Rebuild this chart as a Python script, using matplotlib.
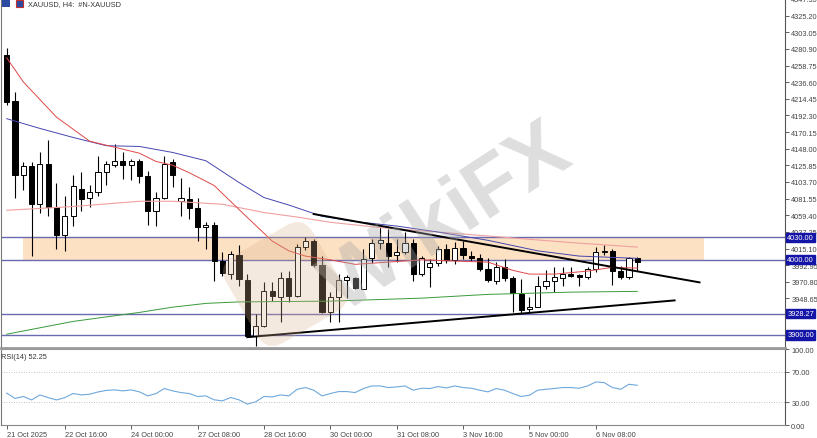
import numpy as np
import matplotlib.pyplot as plt
from matplotlib.patches import FancyBboxPatch, Rectangle
from matplotlib.transforms import Affine2D, blended_transform_factory

plt.rcParams['font.family'] = ['Liberation Sans', 'DejaVu Sans']

# XAUUSD H4 candles
opens = [4273, 4211, 4113, 4125, 4075, 4128, 4070, 4033, 4059, 4095,
         4082, 4090, 4117, 4126, 4131, 4126, 4131, 4111, 4065, 4082,
         4130, 4078, 4081, 4069, 4044, 4046, 3998, 3981, 4006, 3973,
         3899, 3912, 3958, 3950, 3976, 3952, 4017, 4025, 3993, 3930,
         3950, 3973, 3976, 3961, 4002, 4023, 4023, 4006, 4010, 4023,
         3981, 3990, 3996, 4014, 4000, 4016, 4005, 4002, 3988, 3972,
         3990, 3976, 3954, 3935, 3937, 3965, 3972, 3976, 3981, 3980,
         3977, 3988, 4010, 4012, 3985, 3977, 4002]
highs = [4282, 4224, 4130, 4130, 4143, 4160, 4102, 4085, 4113, 4117,
         4099, 4138, 4131, 4154, 4143, 4134, 4134, 4118, 4091, 4138,
         4134, 4109, 4097, 4083, 4051, 4051, 4010, 4012, 4020, 3981,
         3928, 3970, 3970, 3984, 3985, 4021, 4030, 4028, 4005, 3957,
         3981, 3980, 3977, 4014, 4028, 4044, 4041, 4028, 4037, 4028,
         4005, 4001, 4018, 4021, 4024, 4025, 4012, 4008, 4002, 3997,
         4001, 3978, 3974, 3950, 3978, 3986, 3990, 3990, 3990, 3981,
         3990, 4017, 4020, 4014, 3992, 4004, 4004]
lows = [4206, 4082, 4093, 4005, 4063, 4058, 4014, 4012, 4045, 4065,
        4071, 4085, 4099, 4124, 4107, 4106, 4102, 4047, 4045, 4081,
        4097, 4058, 4054, 4025, 4014, 3972, 3978, 3974, 3965, 3897,
        3885, 3910, 3945, 3917, 3944, 3950, 4013, 3990, 3929, 3917,
        3917, 3949, 3961, 3961, 3996, 4014, 3990, 3997, 4008, 3972,
        3978, 3964, 3992, 3996, 3994, 4001, 3998, 3985, 3970, 3968,
        3972, 3931, 3928, 3931, 3937, 3961, 3957, 3965, 3977, 3965,
        3974, 3984, 4006, 3966, 3974, 3974, 3985]
closes = [4210, 4113, 4125, 4075, 4128, 4071, 4033, 4059, 4098, 4081,
          4090, 4117, 4127, 4131, 4126, 4131, 4111, 4065, 4082, 4128,
          4113, 4082, 4069, 4044, 4046, 3998, 3982, 4008, 3974, 3899,
          3912, 3958, 3952, 3976, 3952, 4017, 4025, 3993, 3930, 3950,
          3973, 3977, 3962, 4001, 4023, 4026, 4005, 4010, 4023, 3981,
          4002, 3996, 4014, 4000, 4016, 4006, 4002, 3988, 3973, 3990,
          3976, 3956, 3933, 3937, 3965, 3972, 3977, 3981, 3978, 3977,
          3988, 4010, 4012, 3985, 3977, 4002, 3997]

rsi = [42, 35, 37.5, 33, 39.5, 36, 33, 36, 41.5, 39.6,
       40.5, 43.5, 45.5, 46.2, 44.9, 46.2, 43.6, 38.3, 41.4, 48,
       44.9, 42.7, 41.4, 37.5, 38.3, 33.1, 31.8, 36.2, 33.1, 27.5,
       30.5, 37.5, 37, 39.6, 38.3, 47, 49.3, 45.8, 38.3, 41.4,
       44, 44, 42.7, 48, 51.4, 51.4, 49.3, 50.1, 51.4, 45.8,
       48.4, 48, 50.6, 48.8, 51.4, 49.3, 48.4, 45.8, 43.6, 48,
       45.8, 41.4, 37.5, 39.2, 45.8, 47, 48, 49.3, 49.3, 48.4,
       51.4, 56.6, 55.8, 49.3, 47, 53.6, 52.25]

# moving averages (bar index, price)
ma_red_idx = [0, 2, 6, 10, 16, 18, 20, 22, 25, 28, 30, 32, 34, 36, 39, 42, 46, 50, 55, 58, 61, 63, 66, 70, 73, 76]
ma_red_val = [4269, 4237, 4190, 4158, 4142, 4131, 4126, 4116, 4099, 4067, 4046, 4025, 4012, 4005,
              4000, 3994, 3997, 4000, 3998, 3997, 3986, 3981, 3981, 3985, 3990, 3989]
ma_blue_idx = [0, 4, 8, 12, 16, 20, 24, 28, 31, 34, 38, 42, 47, 52, 58, 64, 69, 76]
ma_blue_val = [4188, 4175, 4163, 4152, 4151, 4143, 4132, 4103, 4083, 4073, 4058, 4051, 4045, 4037,
               4026, 4012, 4005, 4002]
ma_pink_idx = [0, 8, 16, 20, 26, 31, 35, 39, 45, 52, 60, 68, 76]
ma_pink_val = [4066, 4071, 4078, 4078, 4074, 4063, 4057, 4050, 4043, 4037, 4030, 4023, 4017]
ma_green_idx = [0, 8, 16, 20, 24, 28, 39, 50, 58, 68, 76]
ma_green_val = [3901, 3918, 3930, 3937, 3942, 3944, 3945, 3949, 3954, 3957, 3958]

# levels, zone and trendlines
levels = [4030.00, 4000.00, 3928.27, 3900.00]
zone_idx = [2, 84]
zone_px = [4000, 4030]
trend_up_idx = [37, 83.5]
trend_up_px = [4061, 3970]
trend_lo_idx = [29, 80.5]
trend_lo_px = [3897, 3946]

price_ticks = [4347.35 - 22.15 * k for k in range(21)]
date_idx = [0, 7, 15, 23, 31, 39, 47, 55, 63, 71]
date_labels = ['21 Oct 2025', '22 Oct 16:00', '24 Oct 00:00', '27 Oct 08:00', '28 Oct 16:00',
               '30 Oct 00:00', '31 Oct 08:00', '3 Nov 16:00', '5 Nov 00:00', '6 Nov 08:00']

fig = plt.figure(figsize=(8.17, 4.39), dpi=100)
ax = fig.add_axes([0.0012, 0.205, 0.9596, 0.795])
ax2 = fig.add_axes([0.0012, 0.0296, 0.9596, 0.1731], sharex=ax)

x = np.arange(len(opens))
o = np.array(opens); c = np.array(closes)
bull = c >= o
ax.vlines(x, lows, highs, color='black', lw=0.8, zorder=3)
ax.bar(x, np.abs(c - o), bottom=np.minimum(o, c), width=0.62,
       color=np.where(bull, 'white', 'black'), edgecolor='black', linewidth=0.7, zorder=4)

ax.plot(ma_pink_idx, ma_pink_val, color='#f0a0a0', lw=0.8, zorder=5)
ax.plot(ma_blue_idx, ma_blue_val, color='#4646b0', lw=0.7, zorder=5)
ax.plot(ma_red_idx, ma_red_val, color='#e04848', lw=0.7, zorder=5)
ax.plot(ma_green_idx, ma_green_val, color='#3a9a3a', lw=0.7, zorder=5)

ax.fill_between(zone_idx, zone_px[0], zone_px[1], color='#fde1c3', lw=0, zorder=1)
for lv in levels:
    ax.axhline(lv, color='#6a6ab0', lw=1, zorder=2)
ax.plot(trend_up_idx, trend_up_px, color='black', lw=1.4, zorder=6)
ax.plot(trend_lo_idx, trend_lo_px, color='black', lw=1.4, zorder=6)

ax.set_xlim(-0.69, 93.8)
ax.set_ylim(3882.6, 4346.5)
ax.yaxis.tick_right()
# tick labels hidden behind the level boxes are left out
shown = [t for t in price_ticks if min(abs(t - lv) for lv in levels) > 5]
ax.set_yticks(shown)
ax.set_yticklabels(['%.2f' % t for t in shown])
ax.tick_params(axis='y', direction='out', length=3, width=0.6, pad=1.5, labelsize=5.3, colors='#444444')
ax.tick_params(axis='x', bottom=False, labelbottom=False)
ax.spines['top'].set_visible(False)
ax.spines['left'].set_color('#777777')
ax.spines['right'].set_color('#555555')
ax.spines['bottom'].set_color('#9a9a9a')
ax.spines['bottom'].set_linewidth(2)

tr = blended_transform_factory(ax.transAxes, ax.transData)
for lv in levels:
    ax.text(1.003, lv, '%.2f' % lv, transform=tr, ha='left', va='center', fontsize=5.3,
            color='white', clip_on=False, zorder=10,
            bbox=dict(boxstyle='square,pad=0.15', fc='#1414a6', ec='#1414a6'))

# watermark
ax.text(0.57, 0.37, 'WikiFX', transform=ax.transAxes, rotation=33, fontsize=60,
        fontweight='bold', color='#a8a8a8', alpha=0.38, ha='center', va='center', zorder=7)
logo = FancyBboxPatch((-0.5, -0.5), 1.0, 1.0, boxstyle='round,pad=0,rounding_size=0.2',
                      transform=Affine2D().rotate_deg(30).translate(2.85, 1.54) + fig.dpi_scale_trans,
                      fc='#d8b08a', ec='none', alpha=0.28, zorder=7)
ax.add_patch(logo)

# chart header with the two small icons
fig.patches.append(Rectangle((2 / 817, 1 - 8 / 439), 8 / 817, 7 / 439, transform=fig.transFigure,
                             fc='#2b4aa0', ec='none'))
fig.patches.append(Rectangle((16 / 817, 1 - 8 / 439), 7 / 817, 7 / 439, transform=fig.transFigure,
                             fc='#2b4aa0', ec='#c03030', lw=0.8))
fig.text(28 / 817, 1 - 5 / 439, 'XAUUSD, H4:  #N-XAUUSD', fontsize=5.3, color='#333333',
         ha='left', va='center')

# RSI panel
ax2.plot(x, rsi, color='#6fa8dc', lw=0.8)
for lv in [70, 30]:
    ax2.axhline(lv, color='#b0b0b0', lw=0.6, ls=(0, (1, 2)))
ax2.set_ylim(0, 100)
ax2.yaxis.tick_right()
ax2.set_yticks([100, 70, 30, 0])
ax2.set_yticklabels(['100.00', '70.00', '30.00', '0.00'])
ax2.tick_params(axis='y', direction='out', length=3, width=0.6, pad=1.5, labelsize=5.3, colors='#444444')
ax2.set_xticks(date_idx)
ax2.set_xticklabels(date_labels, ha='left')
ax2.tick_params(axis='x', direction='out', length=3, width=0.6, pad=1, labelsize=5.3, colors='#444444')
ax2.spines['left'].set_color('#777777')
ax2.spines['right'].set_color('#555555')
ax2.spines['top'].set_color('#9a9a9a')
ax2.spines['bottom'].set_color('#888888')
ax2.text(0.0, 0.9, 'RSI(14) 52.25', transform=ax2.transAxes, fontsize=5.3, color='#333333',
         ha='left', va='center')

fig.savefig('out.png', dpi=100)
